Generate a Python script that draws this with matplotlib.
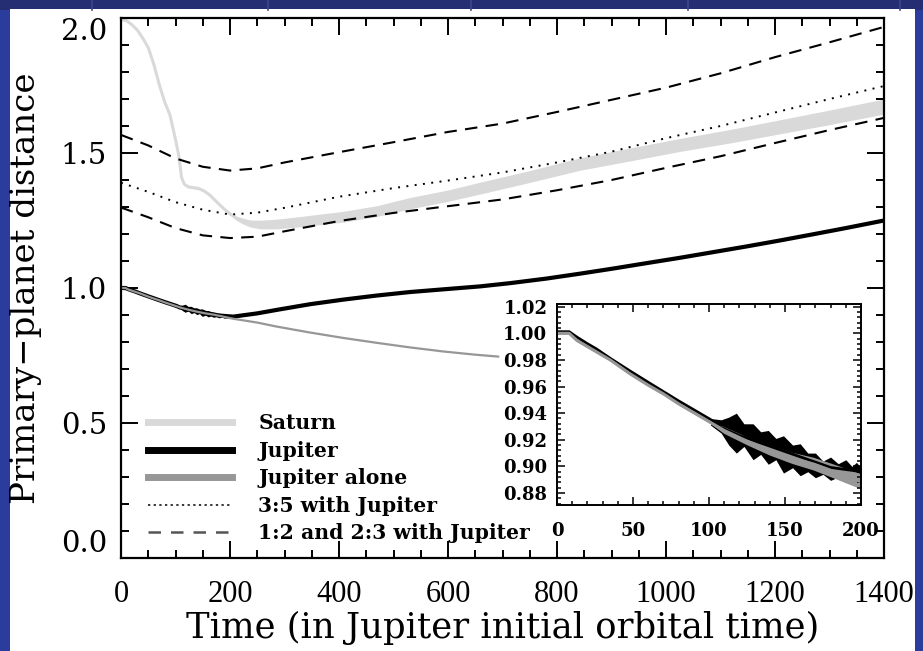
import matplotlib
matplotlib.use("Agg")
import matplotlib.pyplot as plt
from matplotlib.lines import Line2D
from matplotlib.patches import Rectangle
from matplotlib.ticker import MultipleLocator

# Saturn: centre of the distance band and its half-width
sat_t = [0, 10, 20, 30, 40, 50, 60, 70, 80, 90, 100, 106, 111, 116, 123, 132, 142, 152,
         163, 175, 188, 200, 212, 225, 237, 255, 286, 330, 408, 470, 530, 600, 659, 750,
         842, 935, 1026, 1120, 1209, 1300, 1400]
sat_d = [1.995, 1.99, 1.975, 1.955, 1.925, 1.89, 1.83, 1.755, 1.69, 1.64, 1.55, 1.49, 1.41,
         1.385, 1.375, 1.372, 1.369, 1.36, 1.344, 1.32, 1.295, 1.275, 1.258, 1.247, 1.239,
         1.235, 1.237, 1.246, 1.264, 1.285, 1.314, 1.342, 1.37, 1.413, 1.459, 1.495, 1.53,
         1.563, 1.597, 1.632, 1.672]
sat_hw = [0.004] * 22 + [0.008, 0.011, 0.013, 0.016, 0.018, 0.019, 0.02, 0.02, 0.021,
                         0.021, 0.022, 0.022, 0.023, 0.024, 0.024, 0.025, 0.026, 0.027, 0.028]

# Jupiter (with Saturn)
jup_t = [0, 5, 8, 13, 20, 26, 35, 48, 60, 70, 80, 92, 101, 108, 120, 140, 160, 180, 206,
         250, 286, 347, 408, 469, 530, 591, 659, 714, 781, 842, 903, 964, 1026, 1087, 1148,
         1209, 1270, 1330, 1400]
jup_d = [1.0, 1.0, 1.0, 0.996, 0.991, 0.987, 0.980, 0.9705, 0.962, 0.955, 0.948, 0.940,
         0.934, 0.928, 0.922, 0.914, 0.906, 0.898, 0.894, 0.906, 0.919, 0.940, 0.957, 0.972,
         0.985, 0.995, 1.006, 1.018, 1.035, 1.053, 1.072, 1.092, 1.112, 1.133, 1.154, 1.176,
         1.199, 1.222, 1.25]

# envelope of Jupiter's oscillation once the pair is locked
band_t = [101, 108, 113, 118, 123, 129, 134, 139, 144, 149, 155, 160, 165, 170, 175, 180,
          185, 190, 194, 197, 200]
band_hi = [0.936, 0.935, 0.937, 0.940, 0.932, 0.932, 0.926, 0.927, 0.921, 0.923, 0.916,
           0.917, 0.910, 0.910, 0.904, 0.907, 0.902, 0.905, 0.900, 0.903, 0.899]
band_lo = [0.931, 0.925, 0.916, 0.910, 0.915, 0.905, 0.909, 0.9016, 0.905, 0.895, 0.899,
           0.893, 0.896, 0.8915, 0.894, 0.8895, 0.892, 0.8878, 0.890, 0.887, 0.889]

# Jupiter migrating alone
alone_t = [0, 8, 13, 20, 26, 35, 48, 60, 70, 80, 92, 101, 110, 125, 140, 155, 169, 185,
           199, 206, 250, 286, 347, 408, 469, 530, 591, 650, 692]
alone_d = [1.0, 1.0, 0.9947, 0.990, 0.986, 0.980, 0.9696, 0.961, 0.9545, 0.947, 0.939,
           0.933, 0.927, 0.919, 0.912, 0.906, 0.9017, 0.895, 0.889, 0.886, 0.872, 0.857,
           0.835, 0.815, 0.797, 0.780, 0.765, 0.753, 0.746]
alone_hw = [0.001] * 12 + [0.0025, 0.003, 0.0038, 0.0042, 0.0048, 0.0053, 0.0057] + [0.002] * 10

# resonance locations with Jupiter
res_t = [0, 50, 100, 150, 200, 250, 300, 400, 500, 600, 700, 800, 900, 1000, 1100, 1200,
         1300, 1400]
res_12 = [1.567, 1.528, 1.480, 1.449, 1.435, 1.443, 1.465, 1.503, 1.540, 1.578, 1.609,
          1.652, 1.697, 1.742, 1.795, 1.855, 1.910, 1.967]
res_35 = [1.390, 1.356, 1.318, 1.290, 1.272, 1.279, 1.297, 1.338, 1.370, 1.398, 1.428,
          1.465, 1.505, 1.555, 1.600, 1.650, 1.700, 1.748]
res_23 = [1.298, 1.262, 1.222, 1.195, 1.185, 1.190, 1.210, 1.248, 1.278, 1.303, 1.328,
          1.362, 1.400, 1.445, 1.488, 1.537, 1.585, 1.630]

LIGHT = "#d9d9d9"
MID = "#979797"
DASH = (6, 4)
DOT = (1, 3.3)

fig = plt.figure(figsize=(9.23, 6.51), dpi=100, facecolor="#2a3c9c")
fig.add_artist(Rectangle((0, 0.985), 1, 0.015, transform=fig.transFigure,
                         facecolor="#252e72", edgecolor="none", zorder=0))
for xf in [0.1, 0.29, 0.51, 0.745, 0.975]:
    fig.add_artist(Line2D([xf, xf], [0.985, 1.0], transform=fig.transFigure,
                          color="#3a4790", lw=1.2, zorder=0.5))
fig.add_artist(Rectangle((10 / 923, 0), 905 / 923, 642 / 651, transform=fig.transFigure,
                         facecolor="white", edgecolor="none", zorder=0))

ax = fig.add_axes([121 / 923, 93 / 651, 763 / 923, 540 / 651])
ax.set_facecolor("white")

sat_lo = [d - w for d, w in zip(sat_d, sat_hw)]
sat_hi = [d + w for d, w in zip(sat_d, sat_hw)]
ax.fill_between(sat_t, sat_lo, sat_hi, color=LIGHT, lw=0)
ax.plot(sat_t, sat_d, color=LIGHT, lw=2.2, solid_capstyle="butt")

ax.plot(res_t, res_12, color="black", lw=1.5, dashes=DASH)
ax.plot(res_t, res_35, color="black", lw=1.4, dashes=DOT)
ax.plot(res_t, res_23, color="black", lw=1.5, dashes=DASH)

ax.fill_between(band_t, band_lo, band_hi, color="black", lw=0)
ax.plot(jup_t, jup_d, color="black", lw=3)
ax.plot(alone_t, alone_d, color=MID, lw=1.6)

ax.set_xlim(0, 1400)
ax.set_ylim(0, 2.0)
ax.xaxis.set_major_locator(MultipleLocator(200))
ax.xaxis.set_minor_locator(MultipleLocator(50))
ax.yaxis.set_major_locator(MultipleLocator(0.5))
ax.yaxis.set_minor_locator(MultipleLocator(0.1))
ax.yaxis.set_major_formatter(plt.FormatStrFormatter("%.1f"))
ax.tick_params(which="both", direction="in", top=True, right=True, width=1.4)
ax.tick_params(which="major", length=12)
ax.tick_params(which="minor", length=6)
ax.tick_params(axis="x", pad=16, labelsize=22)
ax.tick_params(axis="y", pad=10, labelsize=21)
for sp in ax.spines.values():
    sp.set_linewidth(1.6)

ax.set_xlabel("Time (in Jupiter initial orbital time)", family="DejaVu Serif",
              fontsize=25.5)
ax.xaxis.set_label_coords(0.5, -0.13)
ax.xaxis.label.set_va("center")
ax.set_ylabel("Primary\u2212planet distance", family="DejaVu Serif", fontsize=24.5)
ax.yaxis.set_label_coords(-0.125, 0.5)
ax.yaxis.label.set_va("center")

handles = [
    Line2D([], [], color=LIGHT, lw=5),
    Line2D([], [], color="black", lw=5),
    Line2D([], [], color=MID, lw=5),
    Line2D([], [], color="black", lw=1.1, dashes=(1.5, 2.2)),
    Line2D([], [], color="#555555", lw=1.8, dashes=(5, 4)),
]
labels = ["Saturn", "Jupiter", "Jupiter alone", "3:5 with Jupiter",
          "1:2 and 2:3 with Jupiter"]
ax.legend(handles, labels, loc="lower left", bbox_to_anchor=(0.025, 0.012), frameon=False,
          prop={"family": "DejaVu Serif", "size": 14.7, "weight": "bold"},
          handlelength=4.1, handletextpad=1.3, labelspacing=0.37, borderaxespad=0)

# zoom on the first 200 orbits
ins = fig.add_axes([557 / 923, 146 / 651, 304 / 923, 201 / 651])
ins.fill_between(band_t, band_lo, band_hi, color="black", lw=0)
ins.plot(jup_t, [d + 0.0012 for d in jup_d], color="black", lw=2.0)
al_lo = [d - w for d, w in zip(alone_d, alone_hw)]
al_hi = [d + w for d, w in zip(alone_d, alone_hw)]
ins.fill_between(alone_t, al_lo, al_hi, color=MID, lw=0)
ins.plot(alone_t, alone_d, color=MID, lw=2.2)
ins.set_xlim(0, 200)
ins.set_ylim(0.871, 1.022)
ins.xaxis.set_major_locator(MultipleLocator(50))
ins.xaxis.set_minor_locator(MultipleLocator(10))
ins.yaxis.set_major_locator(MultipleLocator(0.02))
ins.yaxis.set_minor_locator(MultipleLocator(0.004))
ins.yaxis.set_major_formatter(plt.FormatStrFormatter("%.2f"))
ins.tick_params(which="both", direction="in", top=True, right=True, width=1.1,
                labelsize=13)
ins.tick_params(which="major", length=6)
ins.tick_params(which="minor", length=3)
ins.tick_params(axis="x", pad=12)
ins.tick_params(axis="y", pad=7)
for sp in ins.spines.values():
    sp.set_linewidth(1.4)

# fonts and alignment of the tick labels, applied once the ticks exist
fig.canvas.draw()
for lab in ax.get_xticklabels():
    lab.set_family("Liberation Serif")
for lab in ax.get_yticklabels():
    lab.set_family("DejaVu Serif")
    # the end labels sit inside the axis range
    if lab.get_text() == "0.0":
        lab.set_va("bottom")
    elif lab.get_text() == "2.0":
        lab.set_va("top")
for lab in ins.get_xticklabels() + ins.get_yticklabels():
    lab.set_family("DejaVu Serif")
    lab.set_weight("bold")

fig.savefig("out.png", dpi=100, facecolor=fig.get_facecolor())
